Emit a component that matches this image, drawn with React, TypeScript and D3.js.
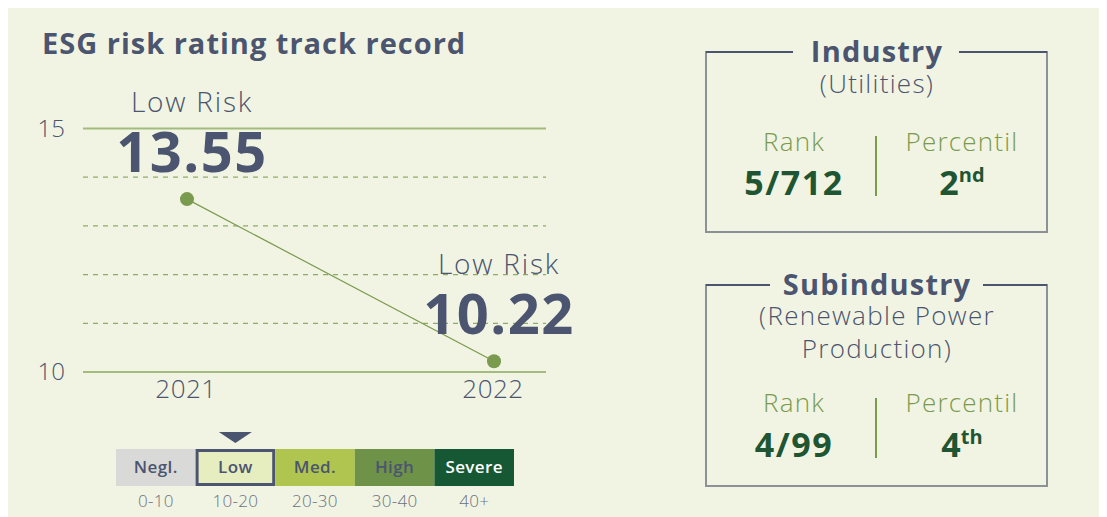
import React from "react";
import * as d3 from "d3";

const years = ["2021", "2022"];
const scores = [13.55, 10.22];
const scoreLabels = ["Low Risk", "Low Risk"];
const yDomain = [10, 15];
const yTickValues = [10, 11, 12, 13, 14, 15];
const yTickLabels = ["10", "15"];

const riskCategories = ["Negl.", "Low", "Med.", "High", "Severe"];
const riskRanges = ["0-10", "10-20", "20-30", "30-40", "40+"];
const currentRisk = "Low";

const panelTitles = ["Industry", "Subindustry"];
const panelSubtitles = [["(Utilities)"], ["(Renewable Power", "Production)"]];
const panelRanks = ["5/712", "4/99"];
const panelPercentiles = ["2", "4"];
const panelSuffixes = ["nd", "th"];

const W = 1099;
const H = 509;
const OX = 8;
const OY = 8;
const C = {
  bg: "#f1f4e2",
  slate: "#4b5570",
  green: "#7a9a4e",
  solid: "#a3bb7d",
  dash: "#8eaa68",
  dark: "#1f5532",
  grey: "#8c9198",
  range: "#6b7183",
};
const riskFill = ["#d9d9d7", "#e6edbf", "#afc54f", "#6f9249", "#165834"];
const riskText = [C.slate, C.slate, C.slate, C.slate, "#ffffff"];
const FONT = "'Open Sans', sans-serif";

export default function App() {
  const y = d3.scaleLinear().domain(yDomain).range([372 - OY, 128.5 - OY]);
  const x = d3.scalePoint<string>().domain(years).range([187 - OX, 494 - OX]);
  const lineX0 = 83 - OX;
  const lineX1 = 546 - OX;
  const pts = years.map((yr, i) => ({ yr, v: scores[i] }));
  const line = d3
    .line<{ yr: string; v: number }>()
    .x((d) => x(d.yr) as number)
    .y((d) => y(d.v));

  const band = d3
    .scaleBand<string>()
    .domain(riskCategories)
    .range([116 - OX, 514 - OX])
    .padding(0);
  const boxY = 449 - OY;
  const boxH = 37;
  const curX = (band(currentRisk) as number) + band.bandwidth() / 2;

  const panels = [
    { top: 52 - OY, bottom: 232 - OY, gap: [793, 959], lines: [93], rank: 151, val: 195 },
    { top: 285 - OY, bottom: 486 - OY, gap: [770, 983], lines: [325, 358], rank: 412, val: 457 },
  ];
  const pl = 706 - OX;
  const pr = 1047 - OX;
  const pc = 877 - OX;
  const rankX = 794 - OX;
  const pctX = 962 - OX;

  return (
    <>
      <style>{`html,body{overflow:hidden;}`}</style>
      <svg width={W} height={H} style={{ display: "block" }} fontFamily={FONT}>
        <rect x={0} y={0} width={W} height={H} fill={C.bg} />
        <text x={42 - OX} y={54 - OY} fontSize={29} fontWeight={700} fill={C.slate} letterSpacing={1}>
          ESG risk rating track record
        </text>

        {yTickValues.map((t) => {
          const solid = t === yDomain[0] || t === yDomain[1];
          return (
            <line
              key={t}
              x1={lineX0}
              x2={lineX1}
              y1={y(t)}
              y2={y(t)}
              stroke={solid ? C.solid : C.dash}
              strokeWidth={solid ? 1.8 : 1.2}
              strokeDasharray={solid ? undefined : "5,5"}
            />
          );
        })}
        {yTickLabels.map((t) => (
          <text
            key={t}
            x={65 - OX}
            y={y(+t) + 8}
            textAnchor="end"
            fontSize={24}
            fontWeight={300}
            fill={C.slate}
          >
            {t}
          </text>
        ))}
        {years.map((yr) => (
          <text
            key={yr}
            x={(x(yr) as number) - 1}
            y={398 - OY}
            textAnchor="middle"
            fontSize={26}
            fontWeight={300}
            fill={C.slate}
            letterSpacing={0.5}
          >
            {yr}
          </text>
        ))}

        <path d={line(pts) ?? ""} fill="none" stroke={C.green} strokeWidth={1.2} />
        {pts.map((p, i) => (
          <g key={p.yr}>
            <circle cx={x(p.yr) as number} cy={y(p.v)} r={7} fill={C.green} />
            <text
              x={(x(p.yr) as number) + 5}
              y={y(p.v) - 87}
              textAnchor="middle"
              fontSize={28}
              fontWeight={300}
              fill={C.slate}
              letterSpacing={1.8}
            >
              {scoreLabels[i]}
            </text>
            <text
              x={(x(p.yr) as number) + 5}
              y={y(p.v) - 27}
              textAnchor="middle"
              fontSize={56}
              fontWeight={700}
              fill={C.slate}
              letterSpacing={1.5}
            >
              {p.v.toFixed(2)}
            </text>
          </g>
        ))}

        {/* risk scale */}
        <path
          d={`M${curX - 16.5},${432 - OY}L${curX + 16.5},${432 - OY}L${curX},${443 - OY}Z`}
          fill={C.slate}
        />
        {riskCategories.map((c, i) => {
          const bx = band(c) as number;
          const cur = c === currentRisk;
          return (
            <g key={c}>
              <rect x={bx} y={boxY} width={band.bandwidth()} height={boxH} fill={riskFill[i]} />
              {cur && (
                <rect
                  x={bx + 1.5}
                  y={boxY + 1.5}
                  width={band.bandwidth() - 3}
                  height={boxH - 3}
                  fill="none"
                  stroke={C.slate}
                  strokeWidth={3}
                />
              )}
              <text
                x={bx + band.bandwidth() / 2}
                y={473 - OY}
                textAnchor="middle"
                fontSize={17}
                fontWeight={600}
                fill={riskText[i]}
                letterSpacing={0.4}
              >
                {c}
              </text>
              <text
                x={bx + band.bandwidth() / 2}
                y={507 - OY}
                textAnchor="middle"
                fontSize={17}
                fontWeight={300}
                fill={C.range}
                letterSpacing={0.3}
              >
                {riskRanges[i]}
              </text>
            </g>
          );
        })}

        {/* panels */}
        {panels.map((p, i) => (
          <g key={panelTitles[i]}>
            <path
              d={`M${p.gap[0] - OX},${p.top}H${pl}V${p.bottom}H${pr}V${p.top}H${p.gap[1] - OX}`}
              fill="none"
              stroke={C.grey}
              strokeWidth={2}
            />
            <line x1={pl} x2={p.gap[0] - OX} y1={p.top} y2={p.top} stroke={C.slate} strokeWidth={2} />
            <line x1={p.gap[1] - OX} x2={pr} y1={p.top} y2={p.top} stroke={C.slate} strokeWidth={2} />
            <text
              x={pc}
              y={p.top + 10}
              textAnchor="middle"
              fontSize={29}
              fontWeight={700}
              fill={C.slate}
              letterSpacing={1.2}
            >
              {panelTitles[i]}
            </text>
            {panelSubtitles[i].map((s, j) => (
              <text
                key={s}
                x={pc}
                y={p.lines[j] - OY}
                textAnchor="middle"
                fontSize={26}
                fontWeight={300}
                fill={C.slate}
                letterSpacing={1.3}
              >
                {s}
              </text>
            ))}
            <text
              x={rankX}
              y={p.rank - OY}
              textAnchor="middle"
              fontSize={26}
              fontWeight={300}
              fill={C.green}
              letterSpacing={1.2}
            >
              Rank
            </text>
            <text
              x={pctX}
              y={p.rank - OY}
              textAnchor="middle"
              fontSize={26}
              fontWeight={300}
              fill={C.green}
              letterSpacing={1.2}
            >
              Percentil
            </text>
            <text
              x={rankX}
              y={p.val - OY}
              textAnchor="middle"
              fontSize={34}
              fontWeight={700}
              fill={C.dark}
              letterSpacing={1.5}
            >
              {panelRanks[i]}
            </text>
            <text x={pctX} y={p.val - OY} textAnchor="middle" fontSize={34} fontWeight={700} fill={C.dark}>
              {panelPercentiles[i]}
              <tspan fontSize={20} dy={-13}>
                {panelSuffixes[i]}
              </tspan>
            </text>
            <line
              x1={876 - OX}
              x2={876 - OX}
              y1={p.val - OY - 59}
              y2={p.val - OY + 1}
              stroke={C.green}
              strokeWidth={2}
            />
          </g>
        ))}
      </svg>
    </>
  );
}
